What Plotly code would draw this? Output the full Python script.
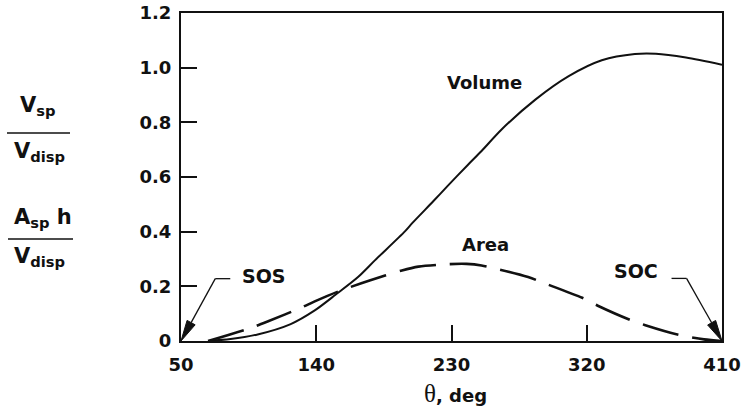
import math
import plotly.graph_objects as go

# Crank angle (deg) and normalized spring-chamber volume / area
theta_vol = [68, 83, 101, 123, 139, 153, 168, 179, 199, 204, 218, 227, 241, 250, 263, 286, 308, 330, 352, 366, 386, 410]
volume = [0, 0.007, 0.024, 0.062, 0.112, 0.170, 0.235, 0.295, 0.401, 0.432, 0.512, 0.565, 0.645, 0.695, 0.772, 0.884, 0.969, 1.027, 1.050, 1.051, 1.037, 1.011]

theta_area = [68, 97, 108, 130, 139, 155, 176, 197, 208, 228, 240, 250, 281, 292, 317, 327, 349, 359, 381, 398, 410]
area = [0, 0.049, 0.072, 0.122, 0.145, 0.182, 0.222, 0.258, 0.272, 0.281, 0.282, 0.276, 0.234, 0.211, 0.158, 0.130, 0.077, 0.058, 0.023, 0.006, 0]

x_ticks = [50, 140, 230, 320, 410]
x_tick_text = ["50", "140", "230", "320", "410"]
y_ticks = [0, 0.2, 0.4, 0.6, 0.8, 1.0, 1.2]
y_tick_text = ["0", "0.2", "0.4", "0.6", "0.8", "1.0", "1.2"]

# start-of-stroke / start-of-compression markers: (head, tail, label) in data units
sos_head, sos_tail, sos_label = (50, 0), (72.8, 0.228), (105, 0.236)
soc_head, soc_tail, soc_label = (410, 0), (386.4, 0.229), (352.5, 0.255)

W, H = 749, 408
L, R, T, B = 181, 722, 13, 341  # plot-area edges in pixels
X0, X1, Y0, Y1 = 50, 410, 0, 1.2


def px(x):
    return (x - L) / (R - L)


def py(y):
    return (B - y) / (B - T)


def data_to_pix(x, y):
    return L + (x - X0) / (X1 - X0) * (R - L), B - (y - Y0) / (Y1 - Y0) * (B - T)


FONT = "DejaVu Sans"
BLACK = "#111111"

fig = go.Figure()
fig.add_trace(go.Scatter(x=theta_vol, y=volume, mode="lines",
                         line=dict(color=BLACK, width=2, shape="spline", smoothing=0.8),
                         hoverinfo="skip"))
fig.add_trace(go.Scatter(x=theta_area, y=area, mode="lines",
                         line=dict(color=BLACK, width=2.6, dash="37px,14px", shape="spline", smoothing=0.8),
                         hoverinfo="skip"))

axis_common = dict(showline=True, linecolor=BLACK, linewidth=2, mirror=True,
                   ticks="inside", tickcolor=BLACK, tickwidth=1.5, ticklen=16,
                   showgrid=False, zeroline=False, automargin=False,
                   tickfont=dict(family=FONT, size=18, color=BLACK, weight="bold"))

fig.update_xaxes(range=[X0, X1], tickvals=x_ticks, ticktext=x_tick_text, ticklabelstandoff=6, **axis_common)
fig.update_yaxes(range=[Y0, Y1], tickvals=y_ticks, ticktext=y_tick_text, ticklabelstandoff=4, **axis_common)

ann = []
lbl = dict(family=FONT, size=18, color=BLACK, weight="bold")
ann.append(dict(x=252, y=0.945, text="Volume", showarrow=False, font=lbl))
ann.append(dict(x=252.5, y=0.352, text="Area", showarrow=False, font=lbl))
ann.append(dict(x=sos_label[0], y=sos_label[1], text="SOS", showarrow=False,
                font=dict(lbl, size=19)))
ann.append(dict(x=soc_label[0], y=soc_label[1], text="SOC", showarrow=False,
                font=dict(lbl, size=19)))
# x-axis title
ann.append(dict(xref="paper", yref="paper", x=px(455), y=py(393),
                xanchor="center", yanchor="middle",
                text='<span style="font-family:Liberation Serif;font-size:25px;font-weight:normal">θ</span>, deg',
                showarrow=False, font=lbl))
# y-axis quantities written as fractions
lab_font = dict(family=FONT, size=21, color=BLACK, weight="bold")
for cx, cy, txt in [(38, 106, "V<sub>sp</sub>"), (39, 152, "V<sub>disp</sub>"),
                    (43, 218, "A<sub>sp</sub> h"), (39, 257, "V<sub>disp</sub>")]:
    ann.append(dict(xref="paper", yref="paper", x=px(cx), y=py(cy),
                    xanchor="center", yanchor="middle",
                    text=txt, showarrow=False, font=lab_font))

shapes = [
    dict(type="line", xref="paper", yref="paper", x0=px(7), x1=px(70), y0=py(133), y1=py(133),
         line=dict(color=BLACK, width=1.6)),
    dict(type="line", xref="paper", yref="paper", x0=px(8), x1=px(73), y0=py(239), y1=py(239),
         line=dict(color=BLACK, width=1.6)),
]


def leader(head, tail, elbow_dx):
    """Bent leader line: short horizontal stub, slanted shaft, filled arrowhead."""
    hx, hy = data_to_pix(*head)
    tx, ty = data_to_pix(*tail)
    out = []
    out.append(dict(type="line", xref="paper", yref="paper",
                    x0=px(tx), y0=py(ty), x1=px(tx + elbow_dx), y1=py(ty),
                    line=dict(color=BLACK, width=1.3)))
    dx, dy = hx - tx, hy - ty
    n = math.hypot(dx, dy)
    ux, uy = dx / n, dy / n
    head_len, half_w = 21, 4.6
    bx, by = hx - ux * head_len, hy - uy * head_len
    out.append(dict(type="line", xref="paper", yref="paper",
                    x0=px(tx), y0=py(ty), x1=px(bx), y1=py(by),
                    line=dict(color=BLACK, width=1.3)))
    p1 = (bx - uy * half_w, by + ux * half_w)
    p2 = (bx + uy * half_w, by - ux * half_w)
    path = "M {} {} L {} {} L {} {} Z".format(px(hx), py(hy), px(p1[0]), py(p1[1]), px(p2[0]), py(p2[1]))
    out.append(dict(type="path", xref="paper", yref="paper", path=path,
                    fillcolor=BLACK, line=dict(color=BLACK, width=1)))
    return out


shapes += leader(sos_head, sos_tail, 15)
shapes += leader(soc_head, soc_tail, -15)

fig.update_layout(width=W, height=H, margin=dict(l=L, r=W - R, t=T, b=H - B, autoexpand=False),
                  paper_bgcolor="white", plot_bgcolor="white", showlegend=False,
                  annotations=ann, shapes=shapes)

fig.write_html("out.html")
